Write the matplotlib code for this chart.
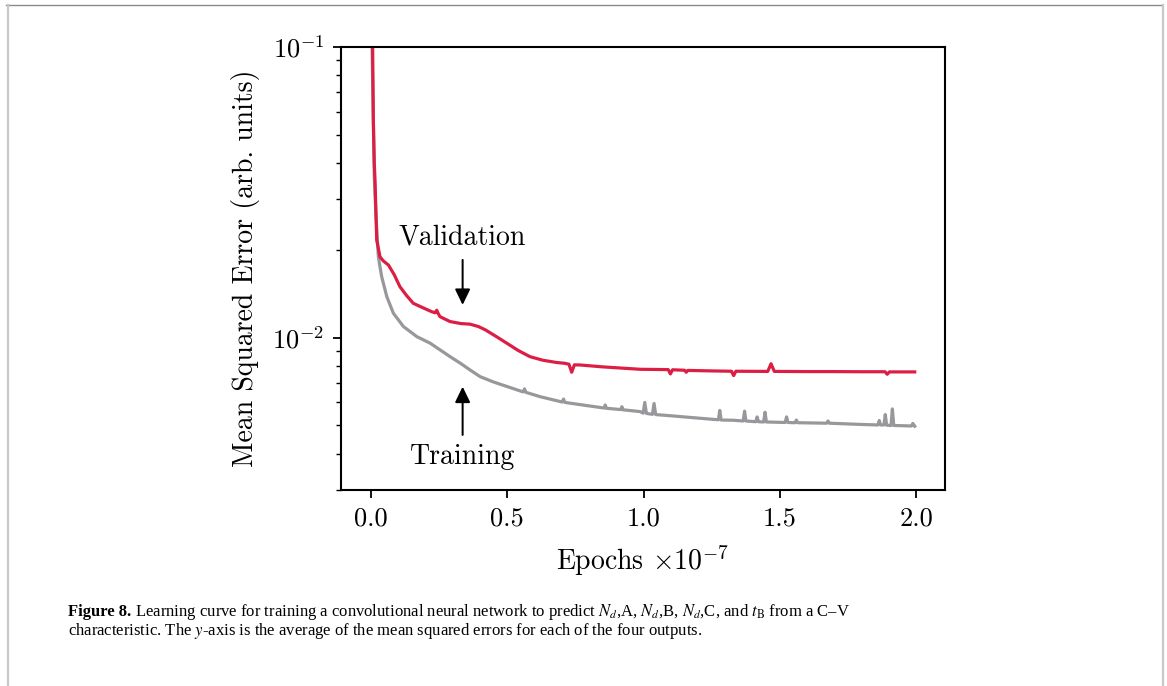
import matplotlib
matplotlib.use("Agg")
import matplotlib.pyplot as plt
from matplotlib.lines import Line2D

plt.rcParams['mathtext.fontset'] = 'cm'
plt.rcParams['font.family'] = 'serif'
plt.rcParams['font.serif'] = ['cmr10']
plt.rcParams['axes.formatter.use_mathtext'] = True
plt.rcParams['axes.unicode_minus'] = False

# ---- data (epochs in units of 1e7, loss = MSE) ----
val_epochs = [0.000, 0.004, 0.006, 0.0086, 0.012, 0.0147, 0.021, 0.033, 0.045, 0.064,
              0.085, 0.106, 0.130, 0.155, 0.190, 0.223, 0.235, 0.241, 0.247, 0.253,
              0.290, 0.330, 0.363, 0.394, 0.420, 0.460, 0.498, 0.540, 0.583, 0.630,
              0.681, 0.710, 0.726, 0.736, 0.746, 0.767, 0.850, 0.987, 1.090, 1.098,
              1.106, 1.150, 1.156, 1.162, 1.250, 1.322, 1.330, 1.338, 1.455, 1.467,
              1.479, 1.600, 1.690, 1.800, 1.885, 1.893, 1.901, 1.994]
val_loss = [0.130, 0.115, 0.099, 0.056, 0.040, 0.0349, 0.0217, 0.0190, 0.0184, 0.0178,
            0.0165, 0.0150, 0.0140, 0.01315, 0.0127, 0.0123, 0.0122, 0.01245, 0.0121, 0.01183,
            0.01138, 0.0112, 0.01115, 0.01094, 0.01065, 0.0101, 0.00959, 0.00905, 0.00862, 0.00838,
            0.00823, 0.00818, 0.00812, 0.00762, 0.00808, 0.00807, 0.00795, 0.00780, 0.00778, 0.00752,
            0.00777, 0.00774, 0.00762, 0.00773, 0.00770, 0.00768, 0.00742, 0.00768, 0.00767, 0.00815,
            0.00767, 0.00766, 0.00766, 0.00765, 0.00765, 0.00750, 0.00764, 0.00764]

train_epochs = [0.000, 0.004, 0.008, 0.012, 0.018, 0.027, 0.039, 0.058, 0.082, 0.119,
                0.168, 0.217, 0.253, 0.290, 0.327, 0.364, 0.400, 0.450, 0.498, 0.558,
                0.563, 0.568, 0.620, 0.701, 0.706, 0.711, 0.804, 0.855, 0.859, 0.863,
                0.916, 0.920, 0.924, 0.987, 0.998, 1.004, 1.010, 1.032, 1.038, 1.044,
                1.098, 1.200, 1.274, 1.279, 1.284, 1.329, 1.365, 1.370, 1.375, 1.411,
                1.416, 1.421, 1.440, 1.445, 1.450, 1.519, 1.524, 1.529, 1.555, 1.560,
                1.565, 1.671, 1.676, 1.681, 1.800, 1.859, 1.864, 1.869, 1.881, 1.886,
                1.891, 1.907, 1.912, 1.917, 1.982, 1.987, 1.994]
train_loss = [0.130, 0.100, 0.060, 0.036, 0.0265, 0.0190, 0.01626, 0.01386, 0.01216, 0.01094,
              0.01010, 0.00959, 0.0091, 0.00862, 0.00819, 0.00775, 0.00736, 0.00705, 0.00681, 0.00652,
              0.00668, 0.00650, 0.00628, 0.00602, 0.00616, 0.00600, 0.00583, 0.00574, 0.00588, 0.00573,
              0.00567, 0.00580, 0.00566, 0.00558, 0.00551, 0.00600, 0.00550, 0.00546, 0.00595, 0.00545,
              0.00540, 0.00530, 0.00523, 0.00563, 0.00522, 0.00521, 0.00518, 0.00560, 0.00518, 0.00515,
              0.00535, 0.00515, 0.00514, 0.00555, 0.00514, 0.00512, 0.00535, 0.00512, 0.00511, 0.00522,
              0.00511, 0.00509, 0.00518, 0.00509, 0.00504, 0.00502, 0.00520, 0.00502, 0.00502, 0.00545,
              0.00501, 0.00500, 0.00570, 0.00500, 0.00498, 0.00508, 0.00497]

# annotations: text position, arrow tail, arrow head
ann_x = 0.336
val_text_y, val_tail_y, val_head_y = 0.0222, 0.01854, 0.01298
trn_text_y, trn_tail_y, trn_head_y = 0.0039, 0.00464, 0.0068

caption_bold = "Figure 8."
caption_line1 = (" Learning curve for training a convolutional neural network to predict "
                 r"$N_d$,A, $N_d$,B, $N_d$,C, and $t_\mathrm{B}$ from a C–V")
caption_line2 = "characteristic. The $y$-axis is the average of the mean squared errors for each of the four outputs."

W, H = 1167, 686
fig = plt.figure(figsize=(W / 100, H / 100), dpi=100)

# page frame
fig.add_artist(Line2D([6 / W, 1162 / W], [1 - 4.5 / H, 1 - 4.5 / H], color='#8a8a8a', lw=1.0))
fig.add_artist(Line2D([7.5 / W, 7.5 / W], [0, 1 - 4.5 / H], color='#c8c8c8', lw=1.6))
fig.add_artist(Line2D([1162.5 / W, 1162.5 / W], [0, 1 - 4.5 / H], color='#c8c8c8', lw=1.6))

ax = fig.add_axes([341 / W, 1 - 490 / H, (945 - 341) / W, (490 - 47) / H])
ax.plot(train_epochs, train_loss, color='#98989c', lw=2.3, solid_joinstyle='round')
ax.plot(val_epochs, val_loss, color='#dc1e44', lw=2.3, solid_joinstyle='round')
ax.set_yscale('log')
ax.set_ylim(0.003, 0.1)
ax.set_xlim(-0.11, 2.105)
ax.set_xticks([0.0, 0.5, 1.0, 1.5, 2.0])
ax.set_xticklabels(['0.0', '0.5', '1.0', '1.5', '2.0'])
ax.tick_params(labelsize=19, width=1.3)
ax.tick_params(which='major', length=6, pad=6)
ax.tick_params(which='minor', length=3.5, width=1.0)
for s in ax.spines.values():
    s.set_linewidth(1.5)
ax.set_xlabel(r'Epochs $\times 10^{-7}$', fontsize=20, labelpad=9.5)
ax.set_ylabel('Mean Squared Error (arb. units)', fontsize=20, labelpad=9)

arrow_style = dict(arrowstyle='-|>,head_width=0.46,head_length=0.95', lw=1.45, color='black',
                   shrinkA=0, shrinkB=0)
ax.text(ann_x, val_text_y, 'Validation', fontsize=20, ha='center', va='center')
ax.annotate('', xy=(ann_x, val_head_y), xytext=(ann_x, val_tail_y), arrowprops=arrow_style)
ax.text(ann_x, trn_text_y, 'Training', fontsize=20, ha='center', va='center')
ax.annotate('', xy=(ann_x, trn_head_y), xytext=(ann_x, trn_tail_y), arrowprops=arrow_style)

# caption
cap_fs = 12
t = fig.text(68 / W, 1 - 612 / H, caption_bold, fontsize=cap_fs, fontweight='bold',
             family='Liberation Serif', va='center')
fig.canvas.draw()
bb = t.get_window_extent()
fig.text(bb.x1 / W, 1 - 612 / H, caption_line1, fontsize=cap_fs, family='Liberation Serif', va='center',
         math_fontfamily='stix')
fig.text(68 / W, 1 - 631 / H, caption_line2, fontsize=cap_fs, family='Liberation Serif', va='center',
         math_fontfamily='stix')

fig.savefig('out.png', dpi=100)
